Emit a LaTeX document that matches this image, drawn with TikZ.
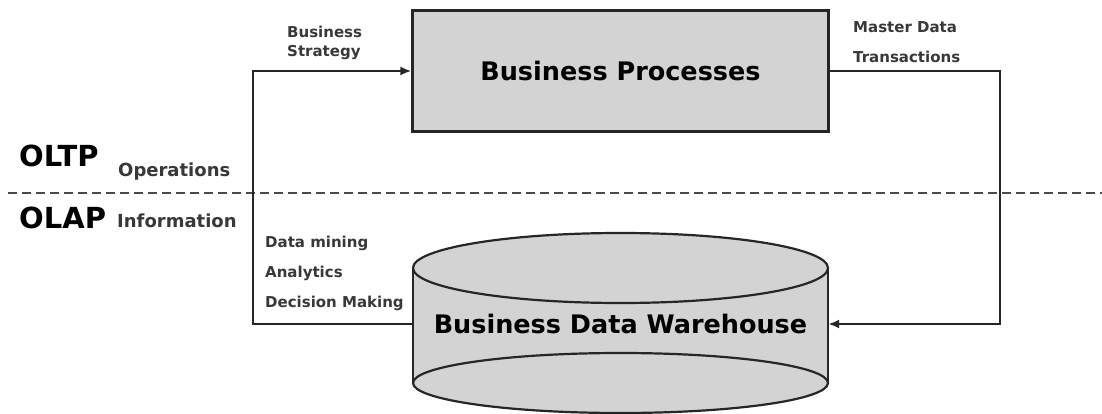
\documentclass[tikz,border=0pt]{standalone}
\usepackage{fontspec}
\setmainfont{DejaVu Sans}
\usetikzlibrary{arrows.meta}
\definecolor{boxgray}{HTML}{D3D3D3}
\definecolor{linegray}{HTML}{262626}
\definecolor{labelgray}{HTML}{383838}
\definecolor{dashgray}{HTML}{4A4A4A}
\begin{document}
\begin{tikzpicture}[x=1pt,y=-1pt,
  conn/.style={draw=linegray,line width=2.2pt},
  arr/.style={conn,-{Latex[length=11pt,width=9pt]}},
  lbl/.style={font=\bfseries\fontsize{15}{15}\selectfont,text=labelgray,anchor=base west,inner sep=0},
  head/.style={font=\bfseries\fontsize{29}{29}\selectfont,text=black,anchor=base west,inner sep=0},
  sub/.style={font=\bfseries\fontsize{18}{18}\selectfont,text=labelgray,anchor=base west,inner sep=0},
  big/.style={font=\bfseries\fontsize{25.5}{25.5}\selectfont,text=black},
  shade/.style={fill=boxgray,draw=linegray,line width=2.2pt}
]
\useasboundingbox (0,0) rectangle (1102,414);
\fill[white] (0,0) rectangle (1102,414);

% dashed separator
\coordinate (dl) at (8,193);
\coordinate (dr) at (1102,193);
\draw[draw=dashgray,line width=2pt,dash pattern=on 9pt off 5pt] (dl) -- (dr);

% Business Processes box
\node[shade,big,minimum width=416pt,minimum height=121pt] (bp) at (620.5,71) {Business Processes};

% Cylinder
\fill[boxgray] (413,268) rectangle (828,383);
\draw[shade] (620.5,383) ellipse[x radius=207.5,y radius=30];
\draw[shade] (620.5,268) ellipse[x radius=207.5,y radius=35];
\draw[linegray,line width=2.2pt] (413,268) -- (413,383);
\draw[linegray,line width=2.2pt] (828,268) -- (828,383);
\node[big,minimum width=415pt,inner sep=0] (dw) at (620.5,324) {Business Data Warehouse};

% connectors
\coordinate (cl) at (253,200);
\coordinate (cr) at (1000,200);
\draw[arr] (dw.west) -| (cl) |- (bp.west);
\draw[arr] (bp.east) -| (cr) |- (dw.east);

% labels
\node[lbl] (bs1) at (287,38) {Business};
\node[lbl] (bs2) at (287,57) {Strategy};
\node[lbl] (md1) at (853,33) {Master Data};
\node[lbl] (md2) at (853,63) {Transactions};
\node[head] (oltp) at (19,167) {OLTP};
\node[sub] (ops) at (118,176) {Operations};
\node[head] (olap) at (19,228) {OLAP};
\node[sub] (inf) at (117,227) {Information};
\node[lbl] (dm1) at (265,247) {Data mining};
\node[lbl] (dm2) at (265,277) {Analytics};
\node[lbl] (dm3) at (265,307) {Decision Making};
\end{tikzpicture}
\end{document}
